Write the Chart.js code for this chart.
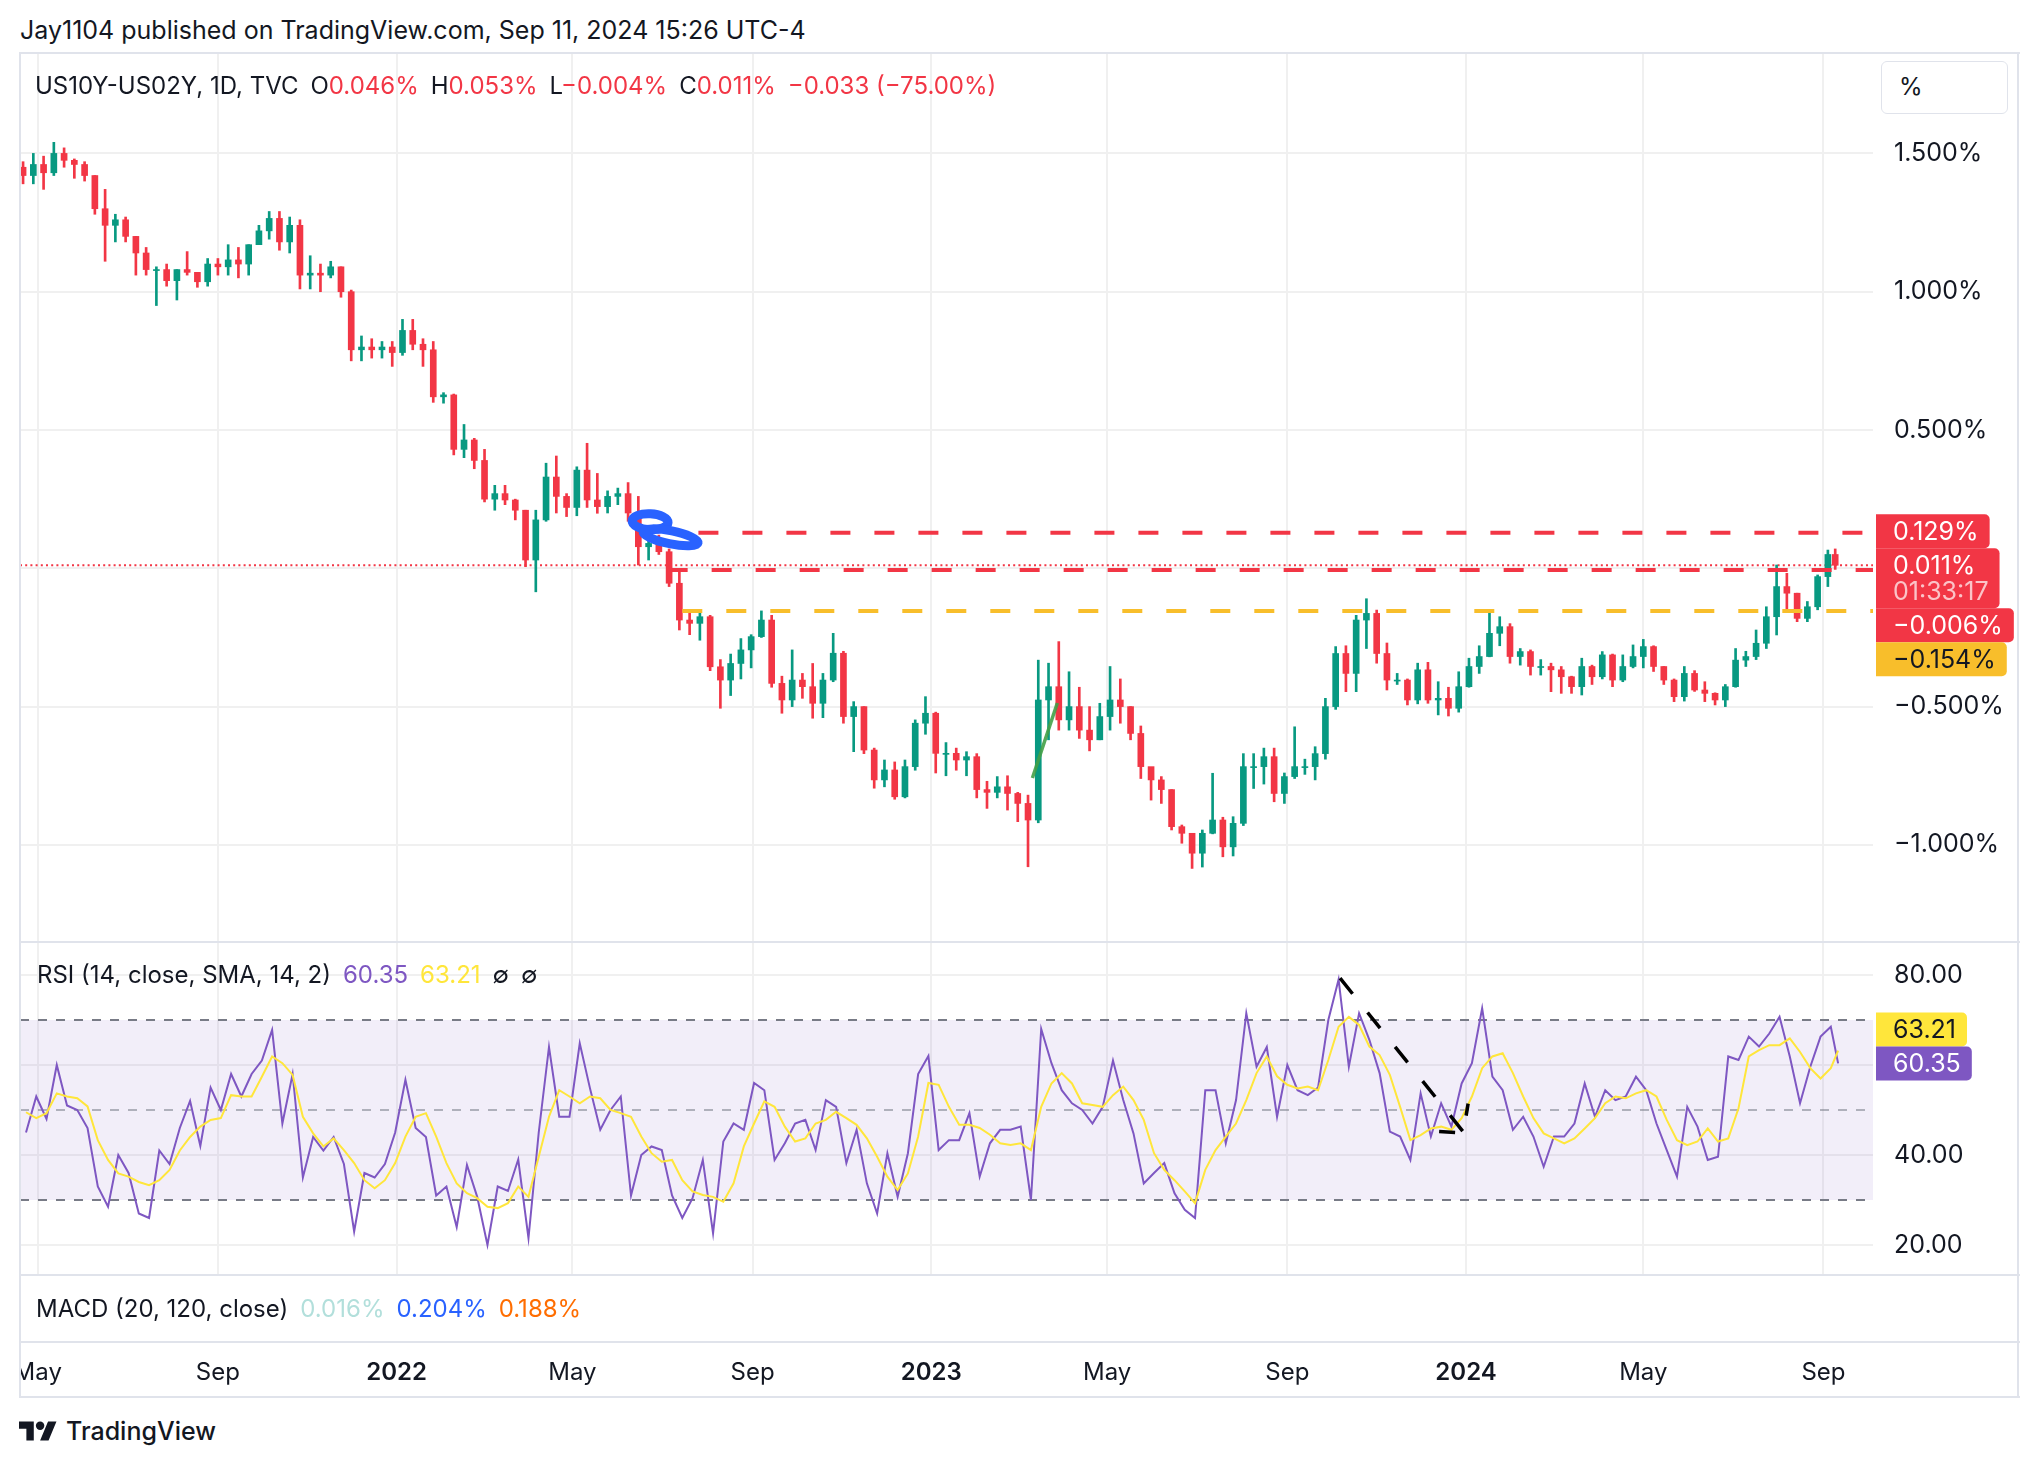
<!DOCTYPE html>
<html>
<head>
<meta charset="utf-8">
<script src="https://cdn.jsdelivr.net/npm/chart.js"></script>
<style>
  html, body { margin: 0; padding: 0; background: #fff; }
  body { width: 2038px; height: 1468px; position: relative; overflow: hidden;
         font-family: Inter, "Noto Sans", sans-serif; color: #131722; }
  canvas { position: absolute; left: 0; }
  .txt { position: absolute; white-space: nowrap; font-size: 24px; line-height: 24px; }
  .line { position: absolute; background: #E0E3EB; }
  .r { color: #F23645; }
  .gap { margin-left: 12px; }
</style>
</head>
<body>
<canvas id="mainChart" width="2038" height="889" style="top:53px"></canvas>
<canvas id="rsiChart" width="2038" height="333" style="top:942px"></canvas>
<canvas id="timeChart" width="2038" height="123" style="top:1275px"></canvas>

<div class="txt" style="left:20px; top:18px; font-size:25px; line-height:25px;">Jay1104 published on TradingView.com, Sep 11, 2024 15:26 UTC-4</div>
<div class="txt" style="left:35px; top:74px;">US10Y-US02Y, 1D, TVC<span class="gap">O</span><span class="r">0.046%</span><span class="gap">H</span><span class="r">0.053%</span><span class="gap">L</span><span class="r">−0.004%</span><span class="gap">C</span><span class="r">0.011%</span><span class="gap r">−0.033 (−75.00%)</span></div>
<div class="txt" style="left:37px; top:963px;">RSI (14, close, SMA, 14, 2)<span class="gap" style="color:#7E57C2">60.35</span><span class="gap" style="color:#FFE63B">63.21</span><span class="gap">∅</span><span class="gap">∅</span></div>
<div class="txt" style="left:36px; top:1297px;">MACD (20, 120, close)<span class="gap" style="color:#B2DFDB">0.016%</span><span class="gap" style="color:#2962FF">0.204%</span><span class="gap" style="color:#FF6D00">0.188%</span></div>

<div style="position:absolute; left:1881px; top:61px; width:125px; height:51px; border:1px solid #E0E3EB; border-radius:6px; background:#fff;"></div>
<div class="txt" style="left:1899px; top:75px;">%</div>

<div style="position:absolute; left:0; top:1344px; width:19px; height:53px; background:#fff;"></div>
<div class="line" style="left:19px; top:52px; width:2001px; height:2px;"></div>
<div class="line" style="left:19px; top:1396px; width:2001px; height:2px;"></div>
<div class="line" style="left:19px; top:52px; width:2px; height:1346px;"></div>
<div class="line" style="left:2017px; top:52px; width:2px; height:1346px;"></div>
<div class="line" style="left:19px; top:941px; width:2001px; height:2px;"></div>
<div class="line" style="left:19px; top:1274px; width:2001px; height:2px;"></div>
<div class="line" style="left:19px; top:1341px; width:2001px; height:2px;"></div>

<svg style="position:absolute; left:19px; top:1417px;" width="38" height="30" viewBox="0 0 36 28">
  <path d="M14 22H7V11H0V4h14v18zM28 22h-8l7.5-18h8L28 22z" fill="#131722"/>
  <circle cx="20" cy="8" r="4" fill="#131722"/>
</svg>
<div class="txt" style="left:66px; top:1419px; font-size:25px; line-height:25px; font-weight:500;">TradingView</div>

<script>
const FONT = 'Inter, "Noto Sans", sans-serif';
const GREEN = '#089981';
const RED = '#F23645';
const GOLD = '#F8BE2B';
const PURPLE = '#7E57C2';
const MA_YELLOW = '#FFE63B';
const GRID = '#F0F0F0';
const AXIS_FONT = 25;

// days are counted from this date
const originDate = '2021-05-01';
const firstWeekEnd = '2021-04-23';
const lastSession = '2024-09-11';
const viewStart = -12.1;
const viewEnd = 1252.8;

// weekly candles (closes on Fridays, last one is the Sep 11 session)
const firstOpen = 1.45;
const closes = [
  1.42, 1.46, 1.43, 1.50, 1.475, 1.46, 1.42, 1.30, 1.24, 1.26,
  1.20, 1.14, 1.08, 1.08, 1.04, 1.08, 1.07, 1.036, 1.10, 1.09,
  1.115, 1.10, 1.17, 1.22, 1.265, 1.18, 1.24, 1.06, 1.067, 1.06,
  1.09, 1.00, 0.79, 0.80, 0.79, 0.80, 0.78,
  0.86, 0.81, 0.79, 0.62, 0.627, 0.43, 0.464, 0.39, 0.25, 0.27,
  0.247, 0.21, 0.03, 0.175, 0.33, 0.26, 0.22, 0.355, 0.247, 0.223,
  0.26, 0.27, 0.20, 0.078, 0.09, 0.06, -0.054, -0.187, -0.199, -0.175,
  -0.356, -0.404, -0.344, -0.295, -0.247, -0.187, -0.416, -0.476, -0.404, -0.428,
  -0.488, -0.404, -0.307, -0.536, -0.50, -0.657, -0.765, -0.729, -0.826, -0.717,
  -0.56, -0.524,
  -0.669, -0.669, -0.693, -0.681, -0.80, -0.81, -0.79, -0.814, -0.85, -0.91,
  -0.476, -0.428, -0.548, -0.50, -0.585, -0.62, -0.536, -0.476, -0.50, -0.597,
  -0.717, -0.765, -0.80, -0.934, -0.958, -1.03, -0.958, -0.91, -1.007, -0.922,
  -0.717, -0.717, -0.681, -0.814, -0.753, -0.717, -0.717, -0.67, -0.50, -0.308,
  -0.38, -0.187, -0.163, -0.308, -0.404, -0.404, -0.476, -0.367, -0.476, -0.47,
  -0.506, -0.428,
  -0.355, -0.319, -0.235, -0.211, -0.319, -0.301, -0.355, -0.355, -0.367, -0.392,
  -0.428, -0.355, -0.392, -0.313, -0.404, -0.355, -0.319, -0.283, -0.355, -0.404,
  -0.464, -0.38, -0.44, -0.452, -0.476, -0.428, -0.332, -0.319, -0.271, -0.175,
  -0.066, -0.09, -0.181, -0.139, -0.03, 0.05, 0.011
];
const highs = [
  1.47, 1.50, 1.49, 1.54, 1.52, 1.48, 1.47, 1.42, 1.37, 1.28,
  1.27, 1.20, 1.16, 1.09, 1.10, 1.08, 1.145, 1.07, 1.12, 1.12,
  1.17, 1.16, 1.17, 1.24, 1.29, 1.29, 1.27, 1.26, 1.13, 1.10,
  1.11, 1.09, 1.006, 0.84, 0.83, 0.82, 0.82,
  0.90, 0.90, 0.83, 0.82, 0.635, 0.63, 0.52, 0.47, 0.43, 0.30,
  0.30, 0.25, 0.21, 0.21, 0.38, 0.406, 0.27, 0.367, 0.452, 0.343,
  0.28, 0.29, 0.31, 0.26, 0.133, 0.12, 0.07, 0.0, -0.15, -0.157,
  -0.17, -0.33, -0.31, -0.254, -0.24, -0.154, -0.17, -0.39, -0.295, -0.38,
  -0.344, -0.38, -0.235, -0.30, -0.482, -0.50, -0.65, -0.693, -0.70, -0.693,
  -0.548, -0.464,
  -0.52, -0.63, -0.65, -0.663, -0.67, -0.77, -0.753, -0.75, -0.81, -0.82,
  -0.332, -0.343, -0.265, -0.374, -0.43, -0.50, -0.488, -0.355, -0.40, -0.50,
  -0.57, -0.72, -0.753, -0.80, -0.928, -0.96, -0.946, -0.741, -0.90, -0.898,
  -0.67, -0.67, -0.65, -0.65, -0.74, -0.573, -0.69, -0.645, -0.47, -0.283,
  -0.28, -0.17, -0.11, -0.151, -0.27, -0.38, -0.40, -0.343, -0.34, -0.41,
  -0.43, -0.374,
  -0.325, -0.28, -0.159, -0.175, -0.20, -0.29, -0.295, -0.33, -0.343, -0.355,
  -0.39, -0.325, -0.35, -0.301, -0.31, -0.313, -0.277, -0.257, -0.28, -0.355,
  -0.40, -0.355, -0.37, -0.41, -0.45, -0.42, -0.29, -0.30, -0.223, -0.139,
  0.012, -0.018, -0.09, -0.12, -0.024, 0.066, 0.07
];
const lows = [
  1.39, 1.39, 1.37, 1.42, 1.45, 1.41, 1.40, 1.28, 1.11, 1.18,
  1.18, 1.06, 1.06, 0.95, 1.02, 0.97, 1.06, 1.016, 1.02, 1.06,
  1.06, 1.05, 1.06, 1.17, 1.19, 1.15, 1.14, 1.01, 1.01, 1.00,
  1.05, 0.98, 0.75, 0.75, 0.76, 0.76, 0.73,
  0.77, 0.79, 0.73, 0.60, 0.597, 0.41, 0.40, 0.36, 0.24, 0.21,
  0.23, 0.175, 0.006, -0.085, 0.17, 0.20, 0.187, 0.19, 0.22, 0.199,
  0.20, 0.23, 0.17, 0.012, 0.03, 0.05, -0.066, -0.223, -0.24, -0.26,
  -0.37, -0.506, -0.46, -0.40, -0.36, -0.25, -0.43, -0.524, -0.50, -0.47,
  -0.542, -0.54, -0.41, -0.56, -0.663, -0.67, -0.795, -0.79, -0.835, -0.83,
  -0.73, -0.60,
  -0.74, -0.75, -0.73, -0.75, -0.83, -0.868, -0.83, -0.874, -0.916, -1.079,
  -0.92, -0.62, -0.585, -0.585, -0.615, -0.66, -0.62, -0.585, -0.56, -0.62,
  -0.76, -0.838, -0.85, -0.946, -0.994, -1.085, -1.08, -0.96, -1.043, -1.04,
  -0.93, -0.796, -0.78, -0.844, -0.85, -0.76, -0.745, -0.765, -0.69, -0.51,
  -0.446, -0.446, -0.29, -0.343, -0.44, -0.42, -0.494, -0.49, -0.488, -0.53,
  -0.534, -0.52,
  -0.43, -0.38, -0.32, -0.28, -0.343, -0.35, -0.386, -0.386, -0.446, -0.452,
  -0.452, -0.458, -0.42, -0.40, -0.428, -0.41, -0.36, -0.36, -0.373, -0.42,
  -0.482, -0.48, -0.445, -0.482, -0.494, -0.50, -0.43, -0.355, -0.33, -0.29,
  -0.241, -0.16, -0.193, -0.193, -0.15, -0.066, -0.004
];

// RSI and its SMA, read at the same weekly points
const rsiValues = [
  45, 53, 48, 60, 51, 50, 46, 33, 28.5, 40,
  36, 27, 26, 41, 38, 46, 52, 42, 55, 50,
  58, 53, 58, 61, 67.8, 47, 58, 35, 44, 41,
  44, 38, 23, 36, 35, 38, 45, 56.7, 46, 44,
  31, 33, 24, 37.8, 30.7, 20, 33, 32, 39, 21.5,
  45, 64, 48.5, 48.5, 64.8, 54.8, 45.6, 50, 53, 31,
  40, 41.9,
  41.1, 31, 26, 30.4, 38.9, 22.6, 43, 47, 45.6, 56,
  54.4, 38.9, 42.6, 47, 47.8, 41.1, 52.2, 50.7, 38.2, 45.6,
  33.7, 27, 40.4, 30.7, 40.4, 58, 62, 41.1, 43.3, 43.3,
  49.3, 35.2, 42.6, 45.6, 45.6, 46.3, 30, 68, 60.4, 54.4,
  51.5, 50, 47, 50.7, 61, 52.2, 44.8, 33.7, 36, 38.2,
  31.5, 27.8, 26, 54.4, 54.4, 42.6, 52.2, 71.5, 59.6, 64,
  48.5,
  60, 54.4, 53.3, 55, 70, 79, 59.6, 71.5, 65.6, 58.2,
  45.2, 44.1, 38.9, 53.7, 44.1, 51.5, 46.3, 55.9, 60.4, 72.6,
  57.4, 54.4, 45.6, 48.5, 44.1, 37.4, 44.1, 44.1, 47, 55.9,
  48.5, 54.4, 52.2, 53, 57.4, 54.4, 47, 41.1, 35.2, 50.7,
  46.3, 38.9, 39.6, 61.9, 61.1, 66.3, 64.1, 67, 70.7, 61.9,
  51.5, 59.6, 66.3, 68.5, 60.35
];
const rsiMaValues = [
  49.5, 48.2, 49.3, 53.7, 53, 52.6, 50.8, 43.3, 38.9, 35.9,
  35.2, 34, 33.3, 34.4, 36.7, 41, 44, 46.3, 47.8, 48.2,
  53.3, 53, 53, 57.4, 61.9, 60.4, 57.8, 48.5, 44.8, 41.9,
  43.7, 41.1, 38.2, 34.4, 32.6, 34.4, 38.2, 44.1, 48.5, 49.3,
  44.1, 38.2, 33.7, 31.5, 30.4, 28.5, 28.2, 29.3, 33, 30.7,
  39.6, 48.5, 54.4, 53, 51.5, 53, 52.6, 50, 49.3, 48.5,
  44.1, 40.4,
  38.5, 38.9, 34.4, 31.9, 31.1, 30.7, 29.6, 33.7, 41.9, 47,
  51.9, 50.7, 46.3, 43, 43.7, 47, 47.8, 49.6, 48.2, 46.7,
  43.7, 39.6, 35.2, 32.2, 35.9, 44.1, 56, 55.6, 50.7, 46.7,
  46.7, 46, 44.5, 42.6, 42.2, 42.6, 41.1, 50.7, 55.9, 58.2,
  55.9, 51.5, 51.1, 50.7, 53.3, 55.2, 52.2, 47.8, 40.4, 36.7,
  34.4, 31.9, 29.3, 36.7, 41.1, 44.1, 47, 52.2, 58.2, 61.9,
  57.5,
  55.6, 54.8, 55.2, 54.4, 61.1, 68.5, 70.7, 68.9, 64.1, 62.2,
  57.8, 50.7, 43.3, 44.4, 45.9, 46.3, 45.6, 48.2, 53, 59.3,
  61.9, 62.6, 58.2, 53, 48.2, 44.8, 43.7, 42.6, 43.7, 45.9,
  48.2, 51.5, 53, 52.6, 53.7, 54.4, 53, 47.8, 43.3, 42.2,
  43, 45.9, 43, 43.7, 50.4, 61.9, 63.3, 64.4, 64.4, 65.9,
  62.9, 59.3, 57, 59.3, 63.21
];

// axes
const tickDates = ['2021-05-01', '2021-09-01', '2022-01-01', '2022-05-01', '2022-09-01', '2023-01-01',
                   '2023-05-01', '2023-09-01', '2024-01-01', '2024-05-01', '2024-09-01'];
const tickLabels = ['May', 'Sep', '2022', 'May', 'Sep', '2023', 'May', 'Sep', '2024', 'May', 'Sep'];
const priceTicks = [-1, -0.5, 0, 0.5, 1, 1.5];
const rsiTicks = [20, 40, 60, 80];

// drawings on the chart
const levelValues = [0.129, -0.006, -0.154];
const levelStarts = ['2022-07-26', '2022-07-05', '2022-07-15'];
const levelColors = [RED, RED, GOLD];
const trendDates = ['2023-03-11', '2023-03-28'];
const trendValues = [-0.758, -0.487];
const loopDates = ['2022-06-23', '2022-07-07'];
const loopValues = [0.1685, 0.112];
const arrowDates = ['2023-10-07', '2023-12-30'];
const arrowValues = [79.3, 45.2];
const countdown = '01:33:17';

const dayOf = s => (Date.parse(s + 'T00:00:00Z') - Date.parse(originDate + 'T00:00:00Z')) / 864e5;
const weekEnds = closes.map((_, i) => i === closes.length - 1 ? dayOf(lastSession) : dayOf(firstWeekEnd) + 7 * i);
const opens = closes.map((c, i) => i === 0 ? firstOpen : closes[i - 1]);
const candleColors = closes.map((c, i) => c >= opens[i] ? GREEN : RED);
const tickDays = tickDates.map(dayOf);
const fmtPct = v => (v < 0 ? '−' : '') + Math.abs(v).toFixed(3) + '%';

Chart.defaults.font.family = FONT;
Chart.defaults.color = '#131722';

const xAxis = (showLabels) => ({
  type: 'linear', min: viewStart, max: viewEnd, offset: false,
  border: { display: false },
  grid: { display: !showLabels, offset: false, color: GRID, lineWidth: 2, drawTicks: false },
  ticks: {
    display: showLabels, autoSkip: false, maxRotation: 0, padding: 16,
    callback: (v, i) => tickLabels[i],
    font: c => ({ size: 24, weight: /^20/.test(tickLabels[c.index] || '') ? '600' : '400' })
  },
  afterBuildTicks: s => { s.ticks = tickDays.map(v => ({ value: v })); },
  afterFit: s => { s.height = showLabels ? 56 : 0; s.paddingLeft = 0; s.paddingRight = 0; }
});
const yAxis = (min, max, ticks, fmt, hidden) => ({
  position: 'right', min, max,
  border: { display: false },
  grid: { display: ticks.length > 0, color: GRID, lineWidth: 2, drawTicks: false },
  ticks: { display: ticks.length > 0, padding: 21, font: { size: AXIS_FONT }, callback: v => hidden.includes(v) ? '' : fmt(v) },
  afterBuildTicks: s => { if (ticks.length) s.ticks = ticks.map(v => ({ value: v })); },
  afterFit: s => { s.width = 145; s.paddingTop = 0; s.paddingBottom = 0; }
});

function drawTags(chart, tags, anchor) {
  const { ctx, chartArea: a, scales: { y } } = chart;
  ctx.save();
  ctx.font = AXIS_FONT + 'px ' + FONT;
  const boxes = tags.map(t => ({
    ...t,
    h: 34 + (t.lines.length - 1) * 26,
    top: y.getPixelForValue(t.value) - 17,
    w: Math.max(...t.lines.map(s => ctx.measureText(s).width)) + 28
  }));
  for (let i = anchor - 1; i >= 0; i--) {
    const lim = boxes[i + 1].top;
    if (boxes[i].top + boxes[i].h > lim) boxes[i].top = lim - boxes[i].h;
  }
  for (let i = anchor + 1; i < boxes.length; i++) {
    const lim = boxes[i - 1].top + boxes[i - 1].h;
    if (boxes[i].top < lim) boxes[i].top = lim;
  }
  ctx.textBaseline = 'middle';
  ctx.textAlign = 'left';
  boxes.forEach(b => {
    ctx.fillStyle = b.bg;
    ctx.beginPath();
    ctx.roundRect(a.right + 3, b.top, b.w, b.h, [0, 5, 5, 0]);
    ctx.fill();
    b.lines.forEach((s, k) => {
      ctx.fillStyle = k ? 'rgba(255,255,255,0.7)' : b.fg;
      ctx.fillText(s, a.right + 20, b.top + 18 + k * 26);
    });
  });
  ctx.restore();
}

const mainOverlay = {
  id: 'mainOverlay',
  beforeDatasetsDraw(chart) {
    const { ctx, chartArea: a, scales: { y } } = chart;
    const py = y.getPixelForValue(closes[closes.length - 1]);
    ctx.save();
    ctx.strokeStyle = RED;
    ctx.lineWidth = 2;
    ctx.setLineDash([2, 3.2]);
    ctx.beginPath();
    ctx.moveTo(a.left, py);
    ctx.lineTo(a.right, py);
    ctx.stroke();
    ctx.restore();
  },
  afterDatasetsDraw(chart) {
    const { ctx, chartArea: a, scales: { x, y } } = chart;
    ctx.save();
    ctx.beginPath();
    ctx.rect(a.left, a.top, a.right - a.left, a.bottom - a.top);
    ctx.clip();
    // horizontal levels
    ctx.lineWidth = 4;
    ctx.setLineDash([20, 24]);
    levelValues.forEach((v, i) => {
      const py = y.getPixelForValue(v);
      ctx.strokeStyle = levelColors[i];
      ctx.beginPath();
      ctx.moveTo(x.getPixelForValue(dayOf(levelStarts[i])), py);
      ctx.lineTo(a.right, py);
      ctx.stroke();
    });
    // green trend line
    ctx.setLineDash([]);
    ctx.strokeStyle = 'rgba(67,160,71,0.9)';
    ctx.lineWidth = 3.5;
    ctx.beginPath();
    trendDates.forEach((d, i) => {
      const px = x.getPixelForValue(dayOf(d)), py = y.getPixelForValue(trendValues[i]);
      i ? ctx.lineTo(px, py) : ctx.moveTo(px, py);
    });
    ctx.stroke();
    // blue hand-drawn loops
    ctx.strokeStyle = '#2962FF';
    ctx.lineWidth = 9;
    [[18, 8, 0.05], [28, 6.5, 0.2]].forEach(([rx, ry, rot], i) => {
      ctx.beginPath();
      ctx.ellipse(x.getPixelForValue(dayOf(loopDates[i])), y.getPixelForValue(loopValues[i]), rx, ry, rot, 0, Math.PI * 2);
      ctx.stroke();
    });
    ctx.restore();
  },
  afterDraw(chart) {
    drawTags(chart, [
      { value: levelValues[0], lines: [fmtPct(levelValues[0])], bg: RED, fg: '#fff' },
      { value: closes[closes.length - 1], lines: [fmtPct(closes[closes.length - 1]), countdown], bg: RED, fg: '#fff' },
      { value: levelValues[1], lines: [fmtPct(levelValues[1])], bg: RED, fg: '#fff' },
      { value: levelValues[2], lines: [fmtPct(levelValues[2])], bg: GOLD, fg: '#131722' }
    ], 1);
  }
};

new Chart(document.getElementById('mainChart'), {
  type: 'bar',
  data: {
    datasets: [
      {
        data: closes.map((c, i) => ({ x: weekEnds[i] - 2, y: [opens[i], c] })),
        backgroundColor: candleColors, barThickness: 6, minBarLength: 1, grouped: false, order: 0
      },
      {
        data: closes.map((c, i) => ({ x: weekEnds[i] - 2, y: [lows[i], highs[i]] })),
        backgroundColor: candleColors, barThickness: 2, grouped: false, order: 1
      }
    ]
  },
  options: {
    responsive: false, animation: false, events: [],
    layout: { padding: { left: 20, right: 20, top: 0, bottom: 0 } },
    plugins: { legend: { display: false }, tooltip: { enabled: false } },
    scales: {
      x: xAxis(false),
      y: yAxis(-1.351, 1.863, priceTicks, fmtPct, [0])
    }
  },
  plugins: [mainOverlay]
});

const rsiOverlay = {
  id: 'rsiOverlay',
  beforeDatasetsDraw(chart) {
    const { ctx, chartArea: a, scales: { y } } = chart;
    ctx.save();
    ctx.fillStyle = 'rgba(126,87,194,0.1)';
    ctx.fillRect(a.left, y.getPixelForValue(70), a.right - a.left, y.getPixelForValue(30) - y.getPixelForValue(70));
    ctx.lineWidth = 2;
    ctx.setLineDash([9, 9]);
    [[70, '#787B86'], [50, 'rgba(120,123,134,0.55)'], [30, '#787B86']].forEach(([v, c]) => {
      const py = y.getPixelForValue(v);
      ctx.strokeStyle = c;
      ctx.beginPath();
      ctx.moveTo(a.left, py);
      ctx.lineTo(a.right, py);
      ctx.stroke();
    });
    ctx.restore();
  },
  afterDatasetsDraw(chart) {
    const { ctx, scales: { x, y } } = chart;
    const x0 = x.getPixelForValue(dayOf(arrowDates[0])), y0 = y.getPixelForValue(arrowValues[0]);
    const x1 = x.getPixelForValue(dayOf(arrowDates[1])), y1 = y.getPixelForValue(arrowValues[1]);
    ctx.save();
    ctx.strokeStyle = '#000';
    ctx.lineWidth = 3.5;
    ctx.setLineDash([20, 24]);
    ctx.beginPath();
    ctx.moveTo(x0, y0);
    ctx.lineTo(x1, y1);
    ctx.stroke();
    ctx.setLineDash([]);
    ctx.beginPath();
    ctx.moveTo(x1 - 24, y1);
    ctx.lineTo(x1 - 8, y1 + 1);
    ctx.moveTo(x1 + 5, y1 - 28);
    ctx.lineTo(x1 + 3, y1 - 16);
    ctx.stroke();
    ctx.restore();
  },
  afterDraw(chart) {
    drawTags(chart, [
      { value: rsiMaValues[rsiMaValues.length - 1], lines: [rsiMaValues[rsiMaValues.length - 1].toFixed(2)], bg: MA_YELLOW, fg: '#131722' },
      { value: rsiValues[rsiValues.length - 1], lines: [rsiValues[rsiValues.length - 1].toFixed(2)], bg: PURPLE, fg: '#fff' }
    ], 1);
  }
};

new Chart(document.getElementById('rsiChart'), {
  type: 'line',
  data: {
    datasets: [
      {
        data: rsiValues.map((v, i) => ({ x: weekEnds[i], y: v })),
        borderColor: PURPLE, borderWidth: 2, pointRadius: 0, order: 1
      },
      {
        data: rsiMaValues.map((v, i) => ({ x: weekEnds[i], y: v })),
        borderColor: MA_YELLOW, borderWidth: 2, pointRadius: 0, order: 0
      }
    ]
  },
  options: {
    responsive: false, animation: false, events: [],
    layout: { padding: { left: 20, right: 20, top: 0, bottom: 0 } },
    plugins: { legend: { display: false }, tooltip: { enabled: false } },
    scales: {
      x: xAxis(false),
      y: yAxis(13.333, 87.333, rsiTicks, v => v.toFixed(2), [60])
    }
  },
  plugins: [rsiOverlay]
});

new Chart(document.getElementById('timeChart'), {
  type: 'line',
  data: { datasets: [{ data: [] }] },
  options: {
    responsive: false, animation: false, events: [],
    layout: { padding: { left: 20, right: 20, top: 0, bottom: 0 } },
    plugins: { legend: { display: false }, tooltip: { enabled: false } },
    scales: {
      x: xAxis(true),
      y: yAxis(0, 1, [], v => '', [])
    }
  }
});
</script>
</body>
</html>
